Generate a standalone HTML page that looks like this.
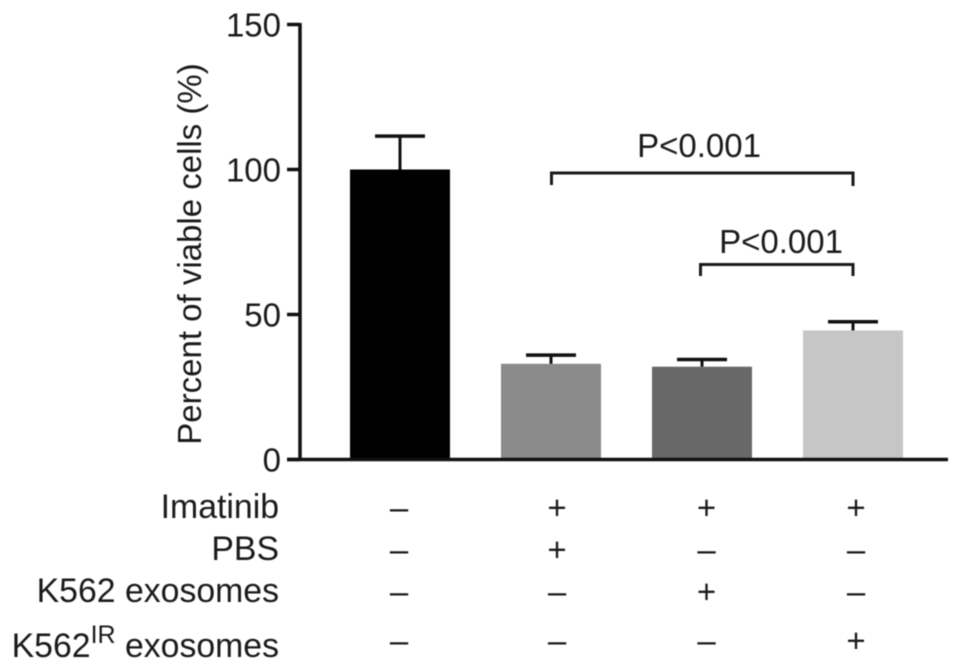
<!DOCTYPE html>
<html lang="en">
<head>
<meta charset="utf-8">
<title>Percent of viable cells</title>
<style>
html,body{margin:0;padding:0;background:#fff;width:969px;height:670px;overflow:hidden}
svg{display:block;filter:blur(0.5px)}
text{font-family:"Liberation Sans",Arial,sans-serif;font-size:33px;fill:#1a1a1a}
text.row{font-size:33.8px}
</style>
</head>
<body>
<svg id="chart" width="969" height="670" viewBox="0 0 969 670" xmlns="http://www.w3.org/2000/svg">
<text transform="translate(201,254) rotate(-90)" text-anchor="middle">Percent of viable cells (%)</text>
<text class="row" x="279" y="518" text-anchor="end">Imatinib</text>
<text class="row" x="279" y="560" text-anchor="end">PBS</text>
<text class="row" x="279" y="602" text-anchor="end">K562 exosomes</text>
<text class="row" x="279" y="657" text-anchor="end">K562<tspan dy="-14" font-size="25">IR</tspan><tspan dy="14"> exosomes</tspan></text>
<g>
<path d="M551.5 185V173H853V186" fill="none" stroke="#1a1a1a" stroke-width="3"/>
<text x="699" y="157" text-anchor="middle">P&lt;0.001</text>
</g>
<g>
<path d="M700.5 276V264.5H853V276" fill="none" stroke="#1a1a1a" stroke-width="3"/>
<text x="781" y="253" text-anchor="middle">P&lt;0.001</text>
</g>
</svg>
<script>
const groups = ['Control', 'PBS', 'K562 exosomes', 'K562IR exosomes'];
const means = [100, 33, 32, 44.5];
const errors = [11.5, 3, 2.5, 3];
const fills = ['#000000', '#8a8a8a', '#686868', '#c6c6c6'];
const yTicks = [0, 50, 100, 150];
const imatinibRow = ['–', '+', '+', '+'];
const pbsRow = ['–', '+', '–', '–'];
const k562Row = ['–', '–', '+', '–'];
const k562irRow = ['–', '–', '–', '+'];

const svg = document.getElementById('chart');
const NS = 'http://www.w3.org/2000/svg';
const yScale = v => 459.5 - v * 2.9;
const xCenter = i => 400 + i * 151;
const signX = i => i === 0 ? 399 : 557 + (i - 1) * 149.5;
const barW = 100;
const capW = 50;

function make(tag, attrs) {
  const el = document.createElementNS(NS, tag);
  for (const k in attrs) el.setAttribute(k, attrs[k]);
  svg.appendChild(el);
  return el;
}

groups.forEach((g, i) => {
  const cx = xCenter(i);
  const top = yScale(means[i]);
  const errTop = yScale(means[i] + errors[i]);

  const stem = make('line', {x1: cx, x2: cx, y1: top, y2: errTop, stroke: '#111', 'stroke-width': 3});
  
  

  const cap = make('line', {x1: cx - capW / 2, x2: cx + capW / 2, y1: errTop, y2: errTop, stroke: '#111', 'stroke-width': 3.5});
  
  

  const bar = make('rect', {x: cx - barW / 2, y: top, width: barW, height: yScale(0) - top, fill: fills[i]});
  
  
});

const yAxis = make('line', {x1: 300, x2: 300, y1: yScale(150) - 1.5, y2: yScale(0) + 1.5, stroke: '#111', 'stroke-width': 3.5});



const xAxis = make('line', {x1: 287, x2: 948, y1: yScale(0), y2: yScale(0), stroke: '#111', 'stroke-width': 3.5});



yTicks.forEach(t => {
  const y = yScale(t);
  const tick = make('line', {x1: 287, x2: 300, y1: y, y2: y, stroke: '#111', 'stroke-width': 3.5});
  
  

  const label = make('text', {x: 281, y: y + 12, 'text-anchor': 'end'});
  
  
  label.textContent = t;
});

function drawRow(row, baseline) {
  row.forEach((s, i) => {
    const sign = make('text', {x: signX(i), y: baseline, 'text-anchor': 'middle'});
    
    
    sign.textContent = s;
  });
}
drawRow(imatinibRow, 519);
drawRow(pbsRow, 561);
drawRow(k562Row, 603);
drawRow(k562irRow, 652);
</script>
</body>
</html>
